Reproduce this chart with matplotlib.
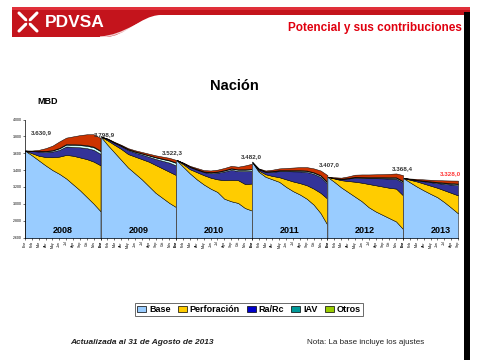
import numpy as np
import matplotlib
matplotlib.use('Agg')
import matplotlib.pyplot as plt
from matplotlib.patches import Rectangle, PathPatch
from matplotlib.path import Path

plt.rcParams['font.family'] = ['Liberation Sans', 'DejaVu Sans']

# === data (MBD), one list per year ===
years = ['2008', '2009', '2010', '2011', '2012', '2013']
months = ['Ene', 'Feb', 'Mar', 'Abr', 'May', 'Jun', 'Jul', 'Ago', 'Sep', 'Oct', 'Nov', 'Dic']

base = [
    [3631, 3575, 3515, 3455, 3400, 3355, 3300, 3230, 3160, 3080, 3000, 2911],
    [3799, 3700, 3610, 3520, 3430, 3360, 3290, 3210, 3130, 3070, 3010, 2960],
    [3522, 3440, 3360, 3290, 3230, 3180, 3140, 3060, 3030, 3010, 2950, 2920],
    [3500, 3380, 3320, 3290, 3260, 3200, 3150, 3110, 3060, 2990, 2890, 2750],
    [3320, 3260, 3195, 3140, 3085, 3030, 2960, 2910, 2870, 2830, 2790, 2700],
    [3307, 3255, 3205, 3160, 3118, 3078, 3020, 2955, 2887],
]
perforacion = [
    [0, 25, 55, 100, 152, 205, 280, 340, 390, 450, 500, 545],
    [0, 52, 90, 130, 160, 200, 240, 290, 330, 350, 370, 380],
    [0, 30, 50, 85, 110, 130, 150, 220, 255, 270, 285, 320],
    [0, 15, 30, 40, 55, 90, 115, 135, 160, 190, 240, 310],
    [0, 40, 85, 130, 177, 220, 275, 310, 335, 360, 390, 400],
    [0, 30, 60, 80, 97, 112, 140, 175, 213],
]
ra_rc = [
    [0, 25, 50, 60, 68, 80, 100, 105, 120, 130, 140, 135],
    [0, 15, 22, 32, 48, 48, 54, 58, 72, 90, 108, 114],
    [0, 11, 25, 29, 35, 54, 78, 103, 118, 109, 153, 151],
    [0, 14, 26, 49, 73, 97, 120, 139, 157, 175, 189, 178],
    [0, 3, 12, 29, 49, 57, 69, 83, 97, 109, 117, 150],
    [0, 6, 14, 27, 41, 55, 76, 98, 120],
]
iav = [
    [0, 2, 5, 8, 12, 18, 22, 24, 26, 28, 30, 32],
    [0, 2, 4, 6, 8, 10, 12, 15, 18, 21, 25, 30],
    [0, 2, 4, 5, 6, 8, 10, 12, 14, 15, 16, 18],
    [0, 3, 5, 6, 7, 8, 9, 10, 12, 14, 15, 16],
    [0, 2, 3, 4, 5, 6, 7, 8, 9, 10, 12, 14],
    [0, 2, 3, 5, 6, 8, 9, 10, 12],
]
otros = [
    [0, 2, 3, 4, 5, 6, 8, 8, 8, 8, 8, 8],
    [0, 2, 3, 4, 4, 5, 5, 5, 5, 6, 6, 6],
    [0, 2, 3, 4, 4, 5, 5, 5, 5, 6, 6, 6],
    [0, 3, 4, 5, 5, 5, 6, 6, 6, 6, 6, 6],
    [0, 2, 3, 4, 4, 5, 5, 5, 5, 6, 6, 6],
    [0, 2, 3, 4, 5, 6, 7, 8, 8],
]
ajustes = [
    [0, 3, 12, 33, 53, 76, 75, 93, 111, 129, 147, 149],
    [0, 4, 6, 8, 10, 12, 14, 17, 20, 23, 26, 30],
    [0, 5, 8, 12, 15, 18, 22, 25, 28, 30, 45, 60],
    [0, 5, 10, 15, 20, 25, 30, 35, 40, 45, 55, 80],
    [0, 8, 12, 18, 25, 30, 32, 34, 36, 40, 45, 70],
    [0, 5, 10, 14, 18, 22, 26, 30, 35],
]

point_labels = ['3.630,9', '3.798,9', '3.522,3', '3.482,0', '3.407,0', '3.368,4', '3.328,0']
label_xy = [(2.4, 3850), (11.6, 3822), (21.5, 3607), (33.0, 3560), (44.3, 3460), (54.9, 3420), (61.9, 3360)]

yticks = [2600, 2800, 3000, 3200, 3400, 3600, 3800, 4000]
ytick_labels = ['2.600', '2.800', '3.000', '3.200', '3.400', '3.600', '3.800', '4.000']

layer_colors = ['#99CCFF', '#FFCC00', '#333399', '#CCFFFF', '#669999', '#CC3300']
legend_names = ['Base', 'Perforación', 'Ra/Rc', 'IAV', 'Otros']
legend_colors = ['#99CCFF', '#FFCC00', '#0000CC', '#009999', '#99CC00']

# === figure ===
fig = plt.figure(figsize=(4.8, 3.6), dpi=100)

# overlay in pixel coords for header / footer
ov = fig.add_axes([0, 0, 1, 1])
ov.set_xlim(0, 480)
ov.set_ylim(360, 0)
ov.axis('off')

# header banner
verts = [(12, 7), (470, 7), (470, 15), (160, 15),
         (140, 16), (125, 37), (105, 37), (12, 37), (12, 7)]
codes = [Path.MOVETO, Path.LINETO, Path.LINETO, Path.LINETO,
         Path.CURVE4, Path.CURVE4, Path.CURVE4, Path.LINETO, Path.CLOSEPOLY]
ov.add_patch(PathPatch(Path(verts, codes), facecolor='#C4141C', edgecolor='none'))
ov.add_patch(Rectangle((12, 7), 458, 3, facecolor='#E0303A', edgecolor='none'))
sw = Path([(100, 37), (125, 36), (140, 18), (165, 16)],
          [Path.MOVETO, Path.CURVE4, Path.CURVE4, Path.CURVE4])
ov.add_patch(PathPatch(sw, facecolor='none', edgecolor='white', lw=1.0, alpha=0.8))
# logo
for dx, dy in [(-1, -1), (1, 1), (-1, 1), (1, -1)]:
    ov.plot([28, 28 + 9 * dx], [22, 22 + 9 * dy], color='white', lw=2.2, solid_capstyle='round')
ov.plot([19, 37], [22, 22], color='#C4141C', lw=1.2)
ov.plot([28, 28], [13, 31], color='#C4141C', lw=1.2)
ov.text(45, 22.5, 'PDVSA', color='white', fontsize=12.5, fontweight='bold', va='center', ha='left')
ov.text(462, 27.5, 'Potencial y sus contribuciones', color='#E0000F', fontsize=8.5,
        fontweight='bold', va='center', ha='right')
# right black border
ov.add_patch(Rectangle((464, 12), 6, 348, facecolor='black', edgecolor='none'))

ov.text(234, 86, 'Nación', fontsize=10.5, fontweight='bold', ha='center', va='center')
ov.text(37, 102, 'MBD', fontsize=6.5, fontweight='bold', ha='left', va='center')

ov.text(70, 343, 'Actualizada al 31 de Agosto de 2013', fontsize=6, fontweight='bold',
        fontstyle='italic', ha='left', va='center', color='#222222')
ov.text(307, 343, 'Nota: La base incluye los ajustes', fontsize=5.8, ha='left', va='center',
        color='#222222')

# === chart ===
ax = fig.add_axes([25 / 480, 1 - 237.5 / 360, 433 / 480, 118 / 360])
ax.set_ylim(2600, 4000)
ax.set_xlim(0, 63)

xt, xl = [], []
for k, yr in enumerate(years):
    n = len(base[k])
    x = k * 11 + np.arange(n)
    ax.stackplot(x, base[k], perforacion[k], ra_rc[k], iav[k], otros[k], ajustes[k],
                 colors=layer_colors, edgecolor='black', linewidth=0.35)
    if k > 0:
        ax.plot([k * 11, k * 11], [2600, base[k][0]], color='#555555', lw=0.6)
    ax.text(k * 11 + 5.5, 2680, yr, fontsize=6.5, fontweight='bold', ha='center', va='center')
    xt += list(x)
    xl += months[:n]

for (lx, ly), s in zip(label_xy, point_labels):
    c = '#FF3333' if s == point_labels[-1] else '#333333'
    ax.text(lx, ly, s, fontsize=4.5, fontweight='bold', ha='center', va='center', color=c)

ax.set_xticks(xt)
ax.set_xticklabels(xl, rotation=90, fontsize=2.5)
ax.set_yticks(yticks)
ax.set_yticklabels(ytick_labels, fontsize=2.5)
ax.tick_params(axis='both', length=1.5, width=0.4, pad=1)
ax.spines['top'].set_visible(False)
ax.spines['right'].set_visible(False)
ax.spines['left'].set_linewidth(0.5)
ax.spines['bottom'].set_linewidth(0.5)

handles = [Rectangle((0, 0), 1, 1, facecolor=c, edgecolor='black', lw=0.5) for c in legend_colors]
leg = fig.legend(handles, legend_names, loc='center', bbox_to_anchor=(249 / 480, 1 - 309.5 / 360),
                 ncol=5, fontsize=6.5, frameon=True, fancybox=False, handlelength=1.0,
                 handleheight=0.7, handletextpad=0.3, columnspacing=0.8, borderpad=0.25)
leg.get_frame().set_edgecolor('#444444')
leg.get_frame().set_linewidth(0.7)
for t in leg.get_texts():
    t.set_fontweight('bold')

fig.savefig('out.png', dpi=100)
